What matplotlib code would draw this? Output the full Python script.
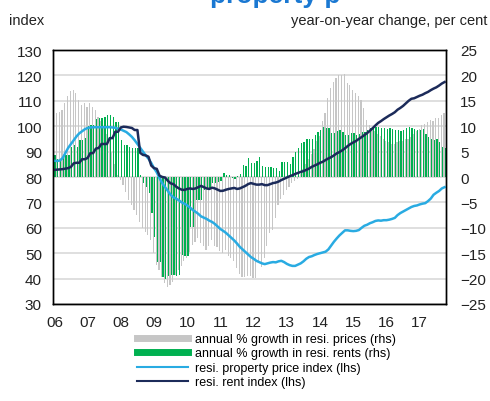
import numpy as np
import matplotlib
matplotlib.use('Agg')
from matplotlib import pyplot as plt
from matplotlib.lines import Line2D

plt.rcParams['font.family'] = ['Liberation Sans', 'DejaVu Sans']

# monthly data, Jan 2006 .. Oct 2017
price_growth = [  # annual % growth in resi. prices (rhs)
    13.2, 12.6, 12.8, 13.2, 14.6, 16.0, 17.0, 17.1, 16.5, 15.2, 14.2, 14.6,
    13.8, 14.6, 13.8, 13.2, 11.8, 11.0, 10.0, 8.5, 7.0, 5.0, 2.5, 0.3,
    -0.5, -1.6, -3.0, -4.5, -5.5, -6.5, -7.5, -8.9, -10.0, -10.8, -11.5, -12.4,
    -15.0, -17.3, -18.3, -19.7, -20.9, -21.7, -21.3, -20.7, -19.3, -18.3, -17.5, -16.5,
    -16.0, -14.8, -13.4, -12.8, -12.0, -13.0, -13.5, -14.4, -13.5, -12.4, -13.5, -13.8,
    -14.5, -15.0, -14.4, -15.5, -16.0, -16.5, -18.0, -19.0, -19.7, -19.7, -19.5, -19.5,
    -19.9, -19.9, -17.0, -17.7, -16.0, -13.5, -11.0, -10.5, -8.0, -5.5, -4.3, -3.5,
    -2.6, -2.0, -1.2, -0.8, -0.3, 0.5, 1.5, 2.5, 3.5, 4.5, 5.5, 7.0,
    8.0, 11.0, 12.6, 15.5, 17.5, 18.7, 19.5, 20.0, 20.1, 20.3, 18.5, 18.1,
    17.1, 16.5, 16.0, 15.2, 13.6, 11.2, 10.2, 9.5, 9.0, 8.5, 8.0, 7.5,
    7.0, 6.8, 6.5, 6.5, 6.8, 7.0, 7.0, 7.5, 7.5, 7.8, 8.5, 9.0,
    9.5, 10.2, 10.5, 10.8, 11.2, 11.0, 11.6, 11.6, 12.2, 12.6,
]
rent_growth = [  # annual % growth in resi. rents (rhs)
    4.3, 3.5, 3.5, 4.0, 4.3, 4.3, 5.9, 6.3, 5.9, 7.3, 7.3, 7.7,
    10.0, 10.2, 10.2, 11.4, 11.6, 11.6, 11.8, 12.2, 12.2, 11.8, 10.8, 10.8,
    7.3, 6.3, 6.3, 6.0, 5.7, 5.7, 5.8, 0.3, -1.2, -2.0, -3.2, -7.0,
    -11.8, -16.7, -16.7, -19.7, -20.0, -19.5, -19.3, -19.3, -19.5, -19.3, -15.4, -15.5,
    -15.5, -9.8, -9.8, -4.5, -4.5, -4.5, -2.6, -2.4, -2.4, -1.2, -1.2, -1.0,
    -0.8, 0.8, 0.4, 0.3, -0.2, -0.3, 0.2, 0.5, 2.4, 2.2, 3.7, 2.8,
    2.8, 3.2, 3.9, 2.2, 2.0, 2.0, 2.0, 1.8, 1.8, 1.2, 3.0, 3.0,
    3.0, 2.6, 4.0, 5.0, 5.7, 6.6, 6.9, 7.4, 7.4, 7.4, 8.3, 8.9,
    9.2, 9.8, 9.6, 9.6, 8.6, 8.6, 9.0, 9.3, 8.8, 8.3, 8.3, 8.6,
    8.6, 8.3, 8.5, 8.9, 8.9, 9.3, 9.6, 10.0, 9.8, 9.8, 9.6, 9.6,
    9.5, 9.6, 9.5, 9.3, 9.2, 9.0, 9.2, 9.6, 9.8, 9.6, 9.5, 9.3,
    9.3, 9.4, 8.5, 7.9, 7.5, 7.3, 7.5, 6.8, 5.9, 5.7,
]
price_index = [  # resi. property price index (lhs)
    86.4, 86.3, 86.5, 87.5, 89.5, 91.5, 93.0, 94.5, 96.0, 97.2, 98.0, 98.8,
    99.3, 99.5, 99.6, 99.6, 99.6, 99.6, 99.6, 99.6, 99.6, 99.5, 99.4, 99.0,
    98.7, 98.2, 97.7, 96.8, 95.8, 94.5, 93.0, 91.5, 90.0, 88.5, 87.2, 85.5,
    83.5, 81.8, 79.5, 77.5, 76.0, 74.5, 73.0, 72.0, 71.5, 70.8, 70.0, 69.5,
    68.8, 68.0, 67.0, 66.3, 65.5, 64.5, 64.0, 63.5, 62.8, 62.3, 61.5, 60.5,
    59.5, 58.8, 58.0, 57.0, 56.0, 55.0, 53.8, 52.5, 51.5, 50.5, 49.5, 48.5,
    47.8, 47.0, 46.5, 46.0, 45.7, 46.0, 46.3, 46.5, 46.4, 46.8, 47.0, 46.5,
    45.8, 45.3, 45.0, 45.0, 45.5, 46.0, 46.8, 47.8, 48.5, 48.8, 49.3, 49.7,
    50.0, 50.3, 50.6, 51.5, 53.0, 54.5, 55.8, 57.0, 58.0, 59.0, 59.0, 58.8,
    58.7, 58.8, 59.1, 60.0, 60.8, 61.2, 61.8, 62.2, 62.7, 62.9, 62.8, 63.0,
    63.0, 63.2, 63.5, 63.9, 65.0, 65.8, 66.4, 67.0, 67.6, 68.2, 68.6, 68.8,
    69.2, 69.5, 69.7, 70.5, 71.5, 73.0, 73.8, 74.5, 75.5, 76.0,
]
rent_index = [  # resi. rent index (lhs)
    82.8, 82.9, 83.0, 83.1, 83.3, 83.5, 84.0, 85.4, 85.6, 85.6, 87.0, 87.0,
    87.5, 89.4, 89.4, 91.2, 91.4, 93.0, 93.0, 93.0, 95.3, 95.3, 97.8, 97.8,
    99.5, 99.8, 99.7, 99.5, 99.3, 98.5, 98.5, 89.5, 88.7, 88.5, 88.0, 84.5,
    83.5, 83.2, 80.5, 80.0, 79.8, 78.5, 77.5, 77.2, 76.2, 75.5, 75.0, 74.9,
    75.3, 75.5, 75.3, 75.5, 76.0, 76.5, 76.0, 75.5, 75.3, 75.8, 75.5, 75.0,
    74.5, 74.6, 75.0, 75.3, 75.5, 75.7, 75.3, 75.5, 76.0, 76.5, 77.2, 77.6,
    77.3, 77.0, 77.0, 77.2, 76.8, 76.8, 77.2, 77.6, 77.8, 78.2, 78.8, 79.3,
    79.8, 80.3, 80.7, 81.2, 81.6, 82.0, 82.3, 82.8, 83.3, 84.0, 84.5, 85.0,
    85.6, 86.0, 86.7, 87.3, 87.8, 88.5, 89.3, 89.8, 90.5, 91.3, 92.2, 93.0,
    93.6, 94.2, 95.0, 95.7, 96.5, 97.3, 98.2, 99.2, 100.3, 101.3, 102.0, 102.8,
    103.5, 104.2, 104.8, 105.5, 106.5, 107.2, 108.0, 109.0, 110.0, 110.8, 111.0, 111.5,
    112.0, 112.4, 113.0, 113.5, 114.2, 114.8, 115.3, 116.0, 116.8, 117.4,
]
year_labels = ['06', '07', '08', '09', '10', '11', '12', '13', '14', '15', '16', '17']

GREY = '#c6c6c6'
GREEN = '#00b050'
LIGHTBLUE = '#29abe2'
NAVY = '#1c2b5a'

months = np.arange(len(price_index))

fig = plt.figure(figsize=(4.9, 4.02), dpi=100)
ax2 = fig.add_axes([53/490, 1-305/402, 393/490, 254/402])
ax = ax2.twinx()

#bars on the right-hand axis, behind the lines
ax2.bar(months - 0.22, price_growth, width=0.42, color=GREY, linewidth=0)
ax2.bar(months + 0.24, rent_growth, width=0.46, color=GREEN, linewidth=0)
ax2.set_ylim(-25, 25)
ax2.set_yticks(np.arange(-25, 26, 5))
ax2.grid(axis='y', color='#d9d9d9', linewidth=1.2)
ax2.set_axisbelow(True)

ax.plot(months, price_index, color=LIGHTBLUE, lw=1.8)
ax.plot(months, rent_index, color=NAVY, lw=1.8)
ax.set_ylim(30, 130)
ax.set_yticks(np.arange(30, 131, 10))

#left axis drawn by ax (lines), right by ax2 (bars): swap tick sides
ax.yaxis.tick_left()
ax2.yaxis.tick_right()
ax.set_zorder(ax2.get_zorder() + 1)
ax.patch.set_visible(False)

ax.set_xlim(-0.5, len(months) - 0.5)
ax2.set_xticks(np.arange(len(year_labels)) * 12)
ax2.set_xticklabels(year_labels)

for a in (ax, ax2):
    a.tick_params(length=0, labelsize=11, colors='#222222')
    for s in a.spines.values():
        s.set_color('black')
        s.set_linewidth(1.0)
ax.tick_params(axis='y', pad=8)
ax2.tick_params(axis='y', pad=10)
ax2.tick_params(axis='x', pad=8)

fig.text(9/490, 1-21/402, 'index', fontsize=10.5, va='center', ha='left', color='#222222')
fig.text(487/490, 1-21/402, 'year-on-year change, per cent', fontsize=10.5,
         va='center', ha='right', color='#222222')
fig.text(275/490, 1-3/402, 'property p', fontsize=19, fontweight='bold',
         color='#1a78d2', ha='center', va='baseline')

handles = [
    Line2D([], [], color=GREY, lw=5),
    Line2D([], [], color=GREEN, lw=5),
    Line2D([], [], color=LIGHTBLUE, lw=1.5),
    Line2D([], [], color=NAVY, lw=1.5),
]
labels = [
    'annual % growth in resi. prices (rhs)',
    'annual % growth in resi. rents (rhs)',
    'resi. property price index (lhs)',
    'resi. rent index (lhs)',
]
fig.legend(handles, labels, loc='upper left', bbox_to_anchor=(137/490, 1-334/402),
           frameon=False, fontsize=9, handlelength=4.1, handletextpad=0.5,
           labelspacing=0.2, borderpad=0, borderaxespad=0)

fig.savefig('out.png', dpi=100)
